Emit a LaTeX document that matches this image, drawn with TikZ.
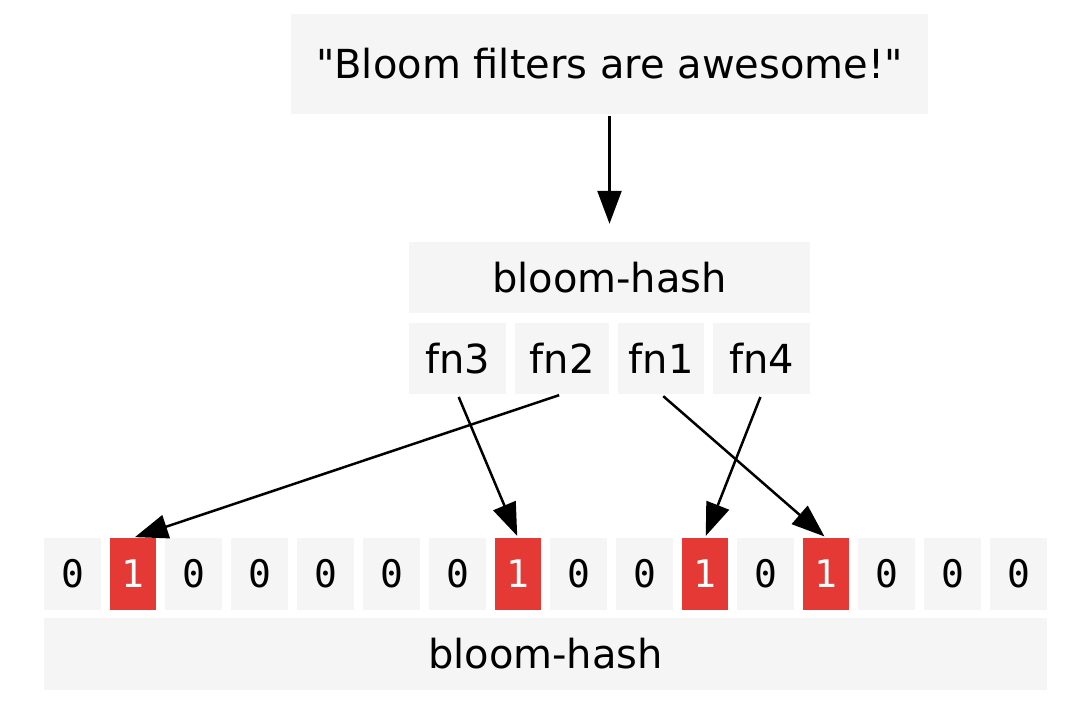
\documentclass[tikz,border=0pt]{standalone}
\usepackage{fontspec}
\newfontfamily\labelfont{DejaVu Sans}
\newfontfamily\bitfont{DejaVu Sans Mono}
\usetikzlibrary{arrows.meta}
\definecolor{boxgray}{HTML}{F5F5F5}
\definecolor{bitred}{HTML}{E53935}

\begin{document}
\begin{tikzpicture}[x=1pt,y=-1pt,
	box/.style={fill=boxgray,inner sep=0pt,font=\labelfont\fontsize{40}{48}\selectfont},
	fnbox/.style={box,minimum height=71pt},
	bit0/.style={box,minimum width=57pt,minimum height=72pt,font=\bitfont\fontsize{38}{46}\selectfont},
	bit1/.style={bit0,fill=bitred,text=white,minimum width=46pt},
	link/.style={line width=2.5pt,-{Triangle[length=33pt,width=24pt]}}]
	\useasboundingbox (0,0) rectangle (1087,720);
	% input string and hash functions
	\node[box,minimum width=637pt,minimum height=100pt] (msg) at (609.5,64) {"Bloom filters are awesome!"};
	\node[fnbox,minimum width=401pt] (hash) at (609.5,277.5) {bloom-hash};
	\node[fnbox,minimum width=97pt] (fn3) at (457.5,358.5) {fn3};
	\node[fnbox,minimum width=94pt] (fn2) at (562,358.5) {fn2};
	\node[fnbox,minimum width=86pt] (fn1) at (661,358.5) {fn1};
	\node[fnbox,minimum width=97pt] (fn4) at (761.5,358.5) {fn4};
	
	% bit array
	\foreach \x/\b [count=\i from 0] in {72.5/0,133/1,193.5/0,259.5/0,325.5/0,391.5/0,457.5/0,518/1,578.5/0,644.5/0,705/1,765.5/0,826/1,886.5/0,952.5/0,1018.5/0}
	{
		\node[bit\b] (b\i) at (\x,574) {\b};
	}
	\node[box,minimum width=1003pt,minimum height=72pt] (array) at (545.5,654) {bloom-hash};
	
	\draw[link,shorten <=2pt,shorten >=18pt] (msg.south) -- (hash.north);
	\draw[link,shorten <=3pt,shorten >=2pt] (fn2.south) -- (b1.north);
	\draw[link,shorten <=3pt,shorten >=2pt] (fn3.south) -- (b7.north);
	\draw[link,shorten <=3pt,shorten >=2pt] (fn4.south) -- (b10.north);
	\draw[link,shorten <=3pt,shorten >=2pt] (fn1.south) -- (b12.north);
\end{tikzpicture}
\end{document}
